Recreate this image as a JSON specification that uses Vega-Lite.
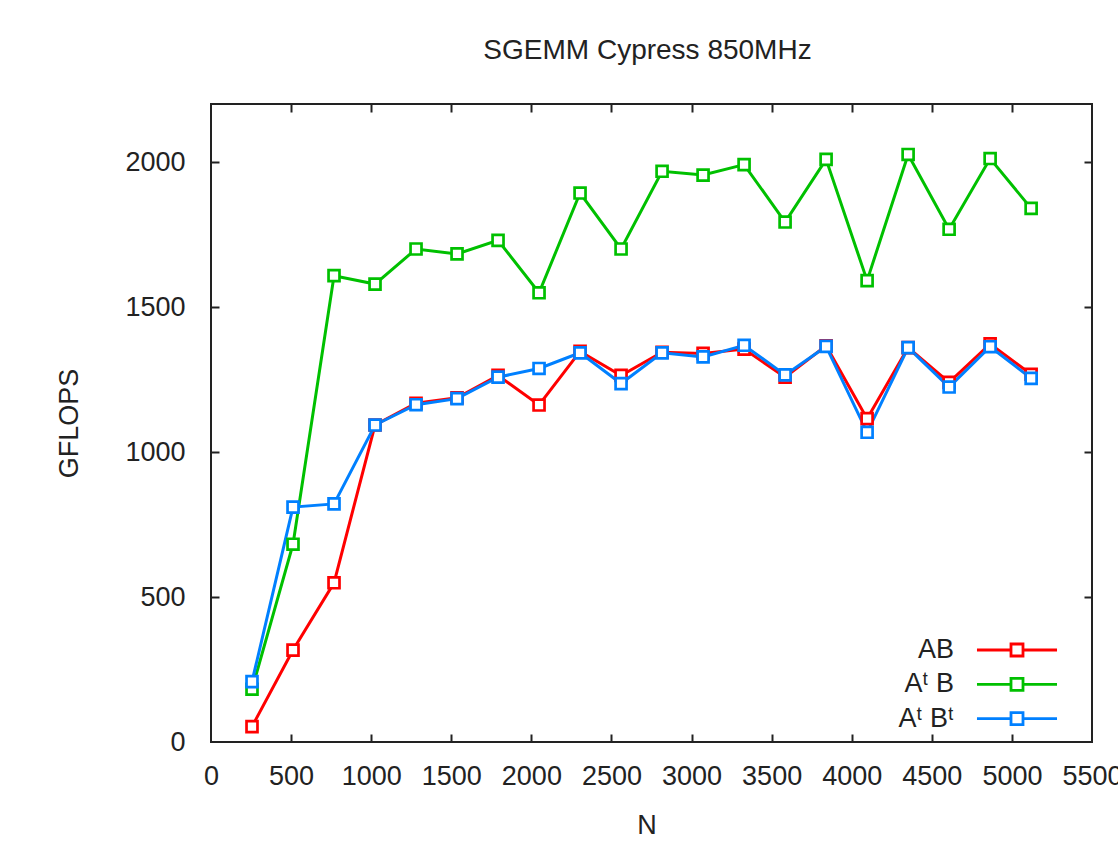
{
  "$schema": "https://vega.github.io/schema/vega-lite/v6.json",
  "width": 881,
  "height": 638,
  "autosize": {"type": "none"},
  "padding": {"left": 211, "top": 104, "right": 26, "bottom": 101},
  "background": "white",
  "title": {"text": "SGEMM Cypress 850MHz", "fontSize": 28, "font": "Liberation Sans", "fontWeight": "normal", "color": "#222", "anchor": "middle", "baseline": "alphabetic", "offset": 16, "dx": -4},
  "config": {
    "view": {"stroke": "#222", "strokeWidth": 2},
    "axis": {"grid": false, "domain": false, "tickColor": "#222", "tickWidth": 2, "labelFont": "Liberation Sans", "labelFontSize": 27, "labelColor": "#222", "titleFont": "Liberation Sans", "titleFontSize": 27, "titleFontWeight": "normal", "titleColor": "#222", "labelFlush": false, "labelOverlap": false, "format": "d"}
  },
  "data": {"values": [
    {"N": 256, "GFLOPS": 53, "series": "AB"},
    {"N": 512, "GFLOPS": 317, "series": "AB"},
    {"N": 768, "GFLOPS": 549, "series": "AB"},
    {"N": 1024, "GFLOPS": 1093, "series": "AB"},
    {"N": 1280, "GFLOPS": 1168, "series": "AB"},
    {"N": 1536, "GFLOPS": 1187, "series": "AB"},
    {"N": 1792, "GFLOPS": 1264, "series": "AB"},
    {"N": 2048, "GFLOPS": 1162, "series": "AB"},
    {"N": 2304, "GFLOPS": 1347, "series": "AB"},
    {"N": 2560, "GFLOPS": 1264, "series": "AB"},
    {"N": 2816, "GFLOPS": 1344, "series": "AB"},
    {"N": 3072, "GFLOPS": 1340, "series": "AB"},
    {"N": 3328, "GFLOPS": 1355, "series": "AB"},
    {"N": 3584, "GFLOPS": 1258, "series": "AB"},
    {"N": 3840, "GFLOPS": 1366, "series": "AB"},
    {"N": 4096, "GFLOPS": 1115, "series": "AB"},
    {"N": 4352, "GFLOPS": 1360, "series": "AB"},
    {"N": 4608, "GFLOPS": 1240, "series": "AB"},
    {"N": 4864, "GFLOPS": 1373, "series": "AB"},
    {"N": 5120, "GFLOPS": 1268, "series": "AB"},
    {"N": 256, "GFLOPS": 182, "series": "Aᵗ B"},
    {"N": 512, "GFLOPS": 682, "series": "Aᵗ B"},
    {"N": 768, "GFLOPS": 1608, "series": "Aᵗ B"},
    {"N": 1024, "GFLOPS": 1579, "series": "Aᵗ B"},
    {"N": 1280, "GFLOPS": 1700, "series": "Aᵗ B"},
    {"N": 1536, "GFLOPS": 1683, "series": "Aᵗ B"},
    {"N": 1792, "GFLOPS": 1730, "series": "Aᵗ B"},
    {"N": 2048, "GFLOPS": 1549, "series": "Aᵗ B"},
    {"N": 2304, "GFLOPS": 1893, "series": "Aᵗ B"},
    {"N": 2560, "GFLOPS": 1700, "series": "Aᵗ B"},
    {"N": 2816, "GFLOPS": 1968, "series": "Aᵗ B"},
    {"N": 3072, "GFLOPS": 1955, "series": "Aᵗ B"},
    {"N": 3328, "GFLOPS": 1991, "series": "Aᵗ B"},
    {"N": 3584, "GFLOPS": 1793, "series": "Aᵗ B"},
    {"N": 3840, "GFLOPS": 2009, "series": "Aᵗ B"},
    {"N": 4096, "GFLOPS": 1591, "series": "Aᵗ B"},
    {"N": 4352, "GFLOPS": 2026, "series": "Aᵗ B"},
    {"N": 4608, "GFLOPS": 1768, "series": "Aᵗ B"},
    {"N": 4864, "GFLOPS": 2012, "series": "Aᵗ B"},
    {"N": 5120, "GFLOPS": 1840, "series": "Aᵗ B"},
    {"N": 256, "GFLOPS": 208, "series": "Aᵗ Bᵗ"},
    {"N": 512, "GFLOPS": 810, "series": "Aᵗ Bᵗ"},
    {"N": 768, "GFLOPS": 821, "series": "Aᵗ Bᵗ"},
    {"N": 1024, "GFLOPS": 1093, "series": "Aᵗ Bᵗ"},
    {"N": 1280, "GFLOPS": 1163, "series": "Aᵗ Bᵗ"},
    {"N": 1536, "GFLOPS": 1184, "series": "Aᵗ Bᵗ"},
    {"N": 1792, "GFLOPS": 1258, "series": "Aᵗ Bᵗ"},
    {"N": 2048, "GFLOPS": 1288, "series": "Aᵗ Bᵗ"},
    {"N": 2304, "GFLOPS": 1342, "series": "Aᵗ Bᵗ"},
    {"N": 2560, "GFLOPS": 1236, "series": "Aᵗ Bᵗ"},
    {"N": 2816, "GFLOPS": 1342, "series": "Aᵗ Bᵗ"},
    {"N": 3072, "GFLOPS": 1328, "series": "Aᵗ Bᵗ"},
    {"N": 3328, "GFLOPS": 1368, "series": "Aᵗ Bᵗ"},
    {"N": 3584, "GFLOPS": 1266, "series": "Aᵗ Bᵗ"},
    {"N": 3840, "GFLOPS": 1364, "series": "Aᵗ Bᵗ"},
    {"N": 4096, "GFLOPS": 1068, "series": "Aᵗ Bᵗ"},
    {"N": 4352, "GFLOPS": 1360, "series": "Aᵗ Bᵗ"},
    {"N": 4608, "GFLOPS": 1224, "series": "Aᵗ Bᵗ"},
    {"N": 4864, "GFLOPS": 1363, "series": "Aᵗ Bᵗ"},
    {"N": 5120, "GFLOPS": 1254, "series": "Aᵗ Bᵗ"}
  ]},
  "layer": [
    {
      "mark": {"type": "line", "strokeWidth": 3, "point": {"shape": "square", "filled": false, "fill": "white", "size": 120, "strokeWidth": 2.7}},
      "encoding": {
        "x": {"field": "N", "type": "quantitative", "scale": {"domain": [0, 5500], "nice": false, "zero": false},
              "axis": {"orient": "bottom", "values": [0, 500, 1000, 1500, 2000, 2500, 3000, 3500, 4000, 4500, 5000, 5500], "ticks": false, "labelPadding": 21, "title": "N", "titleX": 435.5, "titleY": 91, "titleBaseline": "alphabetic"}},
        "y": {"field": "GFLOPS", "type": "quantitative", "scale": {"domain": [0, 2200], "nice": false},
              "axis": {"orient": "left", "values": [0, 500, 1000, 1500, 2000], "ticks": false, "labelPadding": 26, "title": "GFLOPS", "titleX": -134, "titleY": 319, "titleAngle": 270, "titleBaseline": "alphabetic"}},
        "color": {"field": "series", "type": "nominal",
                  "scale": {"domain": ["AB", "Aᵗ B", "Aᵗ Bᵗ"], "range": ["#ff0000", "#00c000", "#0080ff"]},
                  "legend": {"orient": "none", "legendX": 792.5, "legendY": 532.5, "title": null, "padding": 0,
                             "symbolType": "M-6.67,0H-1M1,0H6.67M-1,-1H1V1H-1Z", "symbolSize": 144, "symbolStrokeWidth": 2.8, "symbolFillColor": "white", "symbolOffset": 0,
                             "labelFontSize": 27, "labelFont": "Liberation Sans", "labelColor": "#222", "labelAlign": "right", "labelOffset": -76.5, "rowPadding": 6.3}}
      }
    },
    {
      "mark": {"type": "point", "opacity": 0},
      "encoding": {
        "x": {"field": "N", "type": "quantitative", "axis": {"orient": "top", "values": [500, 1000, 1500, 2000, 2500, 3000, 3500, 4000, 4500, 5000], "labels": false, "tickSize": -8, "title": null}},
        "y": {"field": "GFLOPS", "type": "quantitative", "axis": {"orient": "right", "values": [500, 1000, 1500, 2000], "labels": false, "tickSize": -8, "title": null}}
      }
    },
    {
      "mark": {"type": "point", "opacity": 0},
      "encoding": {
        "x": {"field": "N", "type": "quantitative", "axis": {"orient": "bottom", "values": [500, 1000, 1500, 2000, 2500, 3000, 3500, 4000, 4500, 5000], "labels": false, "tickSize": -8, "title": null}},
        "y": {"field": "GFLOPS", "type": "quantitative", "axis": {"orient": "left", "values": [500, 1000, 1500, 2000], "labels": false, "tickSize": -8, "title": null}}
      }
    }
  ],
  "resolve": {"axis": {"x": "independent", "y": "independent"}}
}
